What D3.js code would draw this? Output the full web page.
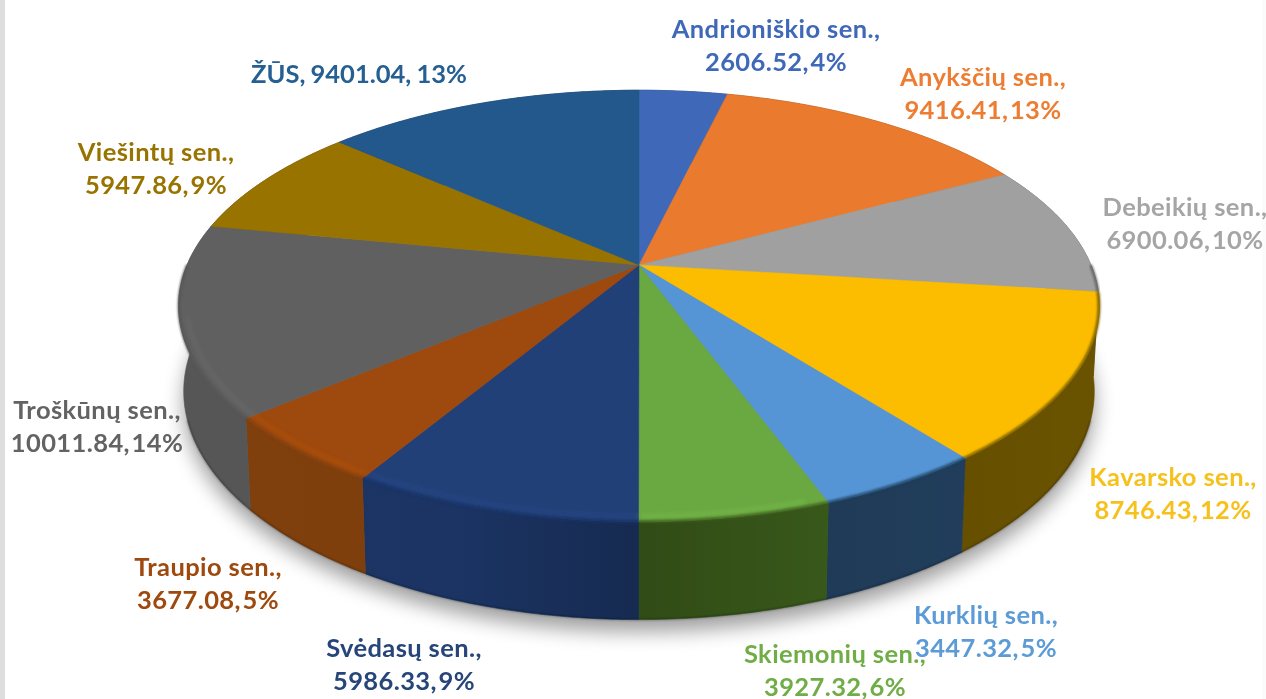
<!DOCTYPE html>
<html lang="lt"><head><meta charset="utf-8">
<script src="https://cdn.jsdelivr.net/npm/d3@7/dist/d3.min.js"></script>
<style>html,body{margin:0;padding:0;background:#fff;overflow:hidden}svg{display:block}</style>
</head><body><div id="c"></div>
<script>
const categories=["Andrioniškio sen.,","Anykščių sen.,","Debeikių sen.,","Kavarsko sen.,","Kurklių sen.,","Skiemonių sen.,","Svėdasų sen.,","Traupio sen.,","Troškūnų sen.,","Viešintų sen.,","ŽŪS,"];
const values=[2606.52,9416.41,6900.06,8746.43,3447.32,3927.32,5986.33,3677.08,10011.84,5947.86,9401.04];
const percents=["4%","13%","10%","12%","5%","6%","9%","5%","14%","9%","13%"];
const topColors=["#3f68b8","#e97a2d","#a0a0a0","#fcbd00","#5595d5","#6aa842","#233f78","#9e480e","#606060","#997300","#22588c"];
const sideColors=["#2a4677","#8f4b1d","#5c5c5c","#6b5300","#213f5e","#3d5f1f","#1a3465","#80400c","#565656","#5c4500","#163a58"];
const labelColors=["#3f68b8","#ed7d31","#a5a5a5","#f7c11e","#5b9bd5","#70ad47","#264478","#9e480e","#636363","#997300","#255e91"];
// label anchors: [centre x, first baseline]
const labelAnchors=[[776,38],[983,86],[1185,216],[1173,486],[986,624],[835,663],[404,657],[208,576],[97,419],[156,161],[359,83]];

const W=1266,H=699;
const svg=d3.select("#c").append("svg").attr("width",W).attr("height",H);
const defs=svg.append("defs");
const blur=(id,s)=>defs.append("filter").attr("id",id).attr("x","-20%").attr("y","-20%").attr("width","140%").attr("height","140%")
  .append("feGaussianBlur").attr("stdDeviation",s);
blur("b1",1.2);blur("b2",2);blur("b3",10);blur("bt",0.6);blur("be",0.5);

// perspective mapping of the unit disc to the page
const persp=0.19;
const xTop=d3.scaleLinear().domain([-1,1]).range([639-452,639+452]);
const yTop=d3.scaleLinear().domain([-1,1]).range([265+208,265-208]);
const xBot=d3.scaleLinear().domain([-1,1]).range([639-447,639+447]);
const yBot=d3.scaleLinear().domain([-1,1]).range([348+220,348-220]);
const proj=(a,r,xs,ys)=>{const u=r*Math.sin(a),v=r*Math.cos(a),w=1+persp*v;return [xs(u/w),ys(v/w)];};
const pTop=(a,r=1)=>proj(a,r,xTop,yTop), pBot=(a,r=1)=>proj(a,r,xBot,yBot);
const samples=(a0,a1)=>{const n=Math.max(2,Math.ceil((a1-a0)/0.01));return d3.range(n+1).map(i=>a0+(a1-a0)*i/n);};
const line=d3.line();

const arcs=d3.pie().sort(null).value(d=>d)(values);
const g=svg.append("g");

// page edges
svg.insert("rect","g").attr("x",0).attr("y",0).attr("width",5).attr("height",H).attr("fill","#dedede");
svg.insert("rect","g").attr("x",1262).attr("y",0).attr("width",4).attr("height",H).attr("fill","#fbfbfb");

// ground shadow
const all=samples(0,2*Math.PI);
g.append("path").attr("d",line(all.map(a=>{const p=pBot(a);return [p[0],p[1]+12];}))+"Z")
 .attr("fill","#000").attr("opacity",.38).attr("filter","url(#b3)");

// sides
const sides=g.append("g").attr("filter","url(#be)");
arcs.forEach((d,i)=>{
  const pts=samples(d.startAngle,d.endAngle);
  sides.append("path").attr("d",line(pts.map(a=>pTop(a)).concat(pts.slice().reverse().map(a=>pBot(a))))+"Z")
   .attr("fill",sideColors[i]).attr("stroke",sideColors[i]).attr("stroke-width",.6);
});
// horizontal shading of the side wall
const grad=defs.append("linearGradient").attr("id","sh").attr("gradientUnits","userSpaceOnUse")
  .attr("x1",180).attr("x2",1100).attr("y1",0).attr("y2",0);
[[0,0],[.3,.02],[.5,.2],[.7,.08],[1,0]].forEach(s=>grad.append("stop").attr("offset",s[0]).attr("stop-color","#000").attr("stop-opacity",s[1]));
g.append("path").attr("d",line(all.map(a=>pTop(a)))+"Z"+line(all.map(a=>pBot(a)))+"Z").attr("fill","url(#sh)");
// dark lip on the bottom edge
g.append("path").attr("d",line(samples(Math.PI*.6,Math.PI*1.4).map(a=>pBot(a)))).attr("fill","none").attr("stroke","#000").attr("stroke-opacity",.35).attr("stroke-width",1.5).attr("filter","url(#b1)");

// top face
const tops=g.append("g").attr("filter","url(#be)");
arcs.forEach((d,i)=>{
  const pts=samples(d.startAngle,d.endAngle);
  tops.append("path").attr("d",line([pTop(0,0)].concat(pts.map(a=>pTop(a))))+"Z")
   .attr("fill",topColors[i]).attr("stroke",topColors[i]).attr("stroke-width",.5);
});
// bevel: soft dark edge plus a light rim on the near side
const bevel=g.append("g");
arcs.forEach((d,i)=>{
  const a0=Math.max(d.startAngle,Math.PI*.5),a1=Math.min(d.endAngle,Math.PI*1.5);
  if(a1>a0){
    bevel.append("path").attr("d",line(samples(a0,a1).map(a=>pTop(a,.999)))).attr("fill","none")
      .attr("stroke",sideColors[i]).attr("stroke-width",3).attr("stroke-opacity",.85).attr("filter","url(#b1)");
  }
  const h0=Math.max(d.startAngle,Math.PI*.9),h1=Math.min(d.endAngle,Math.PI*1.42);
  if(h1>h0){
    bevel.append("path").attr("d",line(samples(h0,h1).map(a=>pTop(a,.982)))).attr("fill","none")
      .attr("stroke",d3.color(topColors[i]).brighter(.7)).attr("stroke-width",2.5).attr("stroke-opacity",.4).attr("filter","url(#b2)");
  }
});

// labels
const labels=svg.append("g").attr("font-family","Lato, 'Open Sans', sans-serif").attr("font-weight",700)
  .attr("font-size",25.5).attr("letter-spacing",.4).attr("text-anchor","middle").attr("filter","url(#bt)");
const lineGap=32.5;
categories.forEach((c,i)=>{
  const [x,y]=labelAnchors[i];
  const val=d3.format(".2f")(values[i])+", "+percents[i];
  const t=labels.append("text").attr("x",x).attr("y",y).attr("fill",labelColors[i]);
  if(c==="ŽŪS,"){t.attr("letter-spacing",0).attr("word-spacing",-1).text(c+" "+val);}
  else{
    t.append("tspan").attr("x",x).text(c);
    t.append("tspan").attr("x",x).attr("dy",lineGap).attr("word-spacing",-5).text(val);
  }
});
</script></body></html>
